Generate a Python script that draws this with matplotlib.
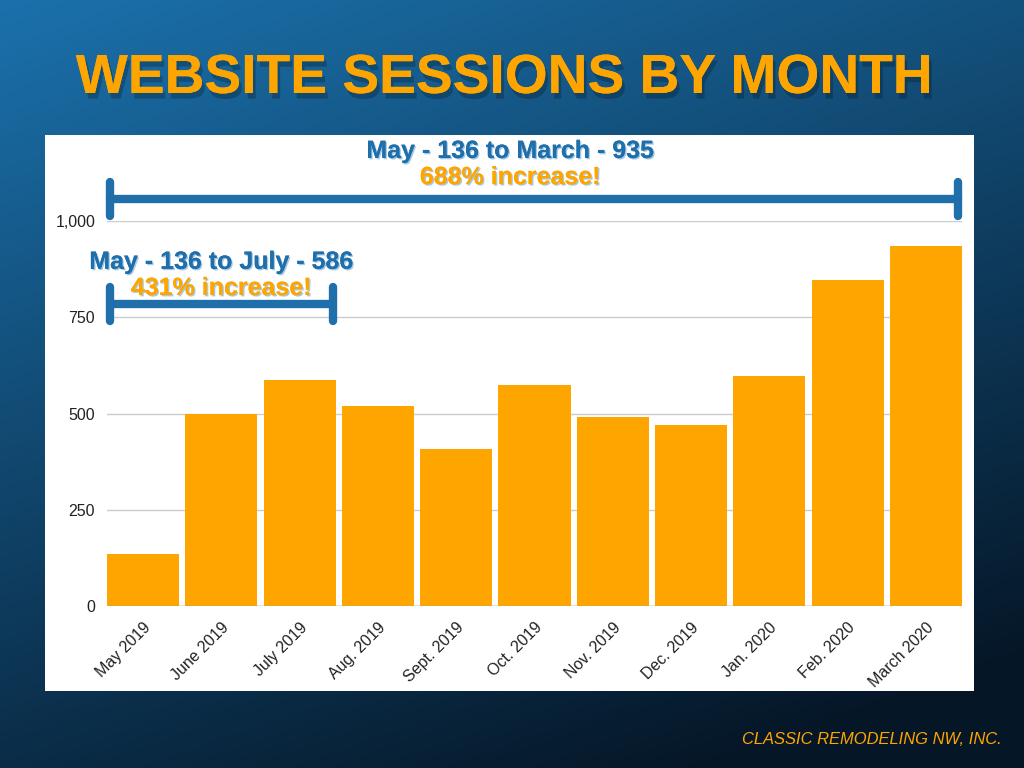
import numpy as np
import matplotlib
matplotlib.use("Agg")
import matplotlib.pyplot as plt
import matplotlib.patheffects as pe
from matplotlib.patches import Rectangle

months = ["May 2019", "June 2019", "July 2019", "Aug. 2019", "Sept. 2019", "Oct. 2019",
          "Nov. 2019", "Dec. 2019", "Jan. 2020", "Feb. 2020", "March 2020"]
sessions = [136, 500, 586, 520, 408, 574, 491, 470, 597, 847, 935]
y_ticks = [0, 250, 500, 750, 1000]
y_tick_labels = ["0", "250", "500", "750", "1,000"]

title = "WEBSITE SESSIONS BY MONTH"
ann_big = ("May - 136 to March - 935", "688% increase!")
ann_small = ("May - 136 to July - 586", "431% increase!")
footer = "CLASSIC REMODELING NW, INC."

ORANGE = "#ffa500"
BLUE = "#1f6fab"
plt.rcParams['font.family'] = ['Liberation Sans', 'DejaVu Sans']

fig = plt.figure(figsize=(10.24, 7.68), dpi=100)

# background gradient
bg = fig.add_axes([0, 0, 1, 1], zorder=-10)
h, w = 200, 256
yy, xx = np.mgrid[0:1:h*1j, 0:1:w*1j]
t = np.clip(0.75 * yy + 0.35 * xx, 0, 1)
t = t / t.max()
c0 = np.array([27, 113, 172]) / 255
c1 = np.array([5, 22, 38]) / 255
img = c0[None, None, :] * (1 - t[..., None]) + c1[None, None, :] * t[..., None]
bg.imshow(img, aspect='auto', extent=[0, 1, 0, 1], origin='upper')
bg.set_axis_off()

# white panel
fig.patches.append(Rectangle((45/1024, 1 - 691/768), (974-45)/1024, (691-135)/768,
                             transform=fig.transFigure, facecolor="white", edgecolor="none", zorder=-5))

# title
fig.text(504/1024, 1 - 79/768, title, ha="center", va="center", color=ORANGE,
         fontsize=39.7, fontweight="bold",
         path_effects=[pe.withSimplePatchShadow(offset=(2, -4), shadow_rgbFace="black", alpha=0.22), pe.Normal()])

# footer
fig.text(1002/1024, 1 - 739/768, footer, ha="right", va="center", color=ORANGE,
         fontsize=11.9, style="italic")

ax = fig.add_axes([107/1024, 1 - 606/768, (962-107)/1024, (606-221)/768])
x = np.arange(len(months))
ax.bar(x, sessions, width=0.92, color=ORANGE, zorder=3)
ax.set_xlim(-0.46, len(months) - 0.54)
ax.set_ylim(0, 1000)
ax.set_yticks(y_ticks)
ax.set_yticklabels(y_tick_labels)
ax.set_xticks(x)
ax.set_xticklabels(months, rotation=45, ha="right", rotation_mode="anchor")
ax.tick_params(axis="both", length=0, labelsize=11.5, colors="#222222")
ax.tick_params(axis="y", pad=8.5)
ax.tick_params(axis="x", pad=10)
ax.grid(axis="y", color="#cccccc", linewidth=1, zorder=0)
ax.axhline(0, color="#999999", linewidth=1, zorder=4)
ax.set_facecolor("none")
for s in ax.spines.values():
    s.set_visible(False)

# annotations (bracket geometry in data coords)
def bracket(x0, x1, yc, half):
    kw = dict(color=BLUE, linewidth=6, solid_capstyle="round", clip_on=False, zorder=5)
    ax.plot([x0, x1], [yc, yc], **kw)
    ax.plot([x0, x0], [yc - half, yc + half], **kw)
    ax.plot([x1, x1], [yc - half, yc + half], **kw)

shadow = [pe.withSimplePatchShadow(offset=(1, -1), shadow_rgbFace="#9ec3e0", alpha=0.9), pe.Normal()]

bracket(-0.42, 10.41, 1057, 45)
ax.text(4.69, 1182, ann_big[0], ha="center", va="center", color=BLUE, fontsize=18,
        fontweight="bold", clip_on=False, path_effects=shadow)
ax.text(4.69, 1114, ann_big[1], ha="center", va="center", color=ORANGE, fontsize=18,
        fontweight="bold", clip_on=False, path_effects=shadow)

bracket(-0.42, 2.43, 784, 45)
ax.text(1.0, 894, ann_small[0], ha="center", va="center", color=BLUE, fontsize=18,
        fontweight="bold", clip_on=False, path_effects=shadow)
ax.text(1.0, 826, ann_small[1], ha="center", va="center", color=ORANGE, fontsize=18,
        fontweight="bold", clip_on=False, path_effects=shadow)

fig.savefig("out.png", dpi=100)
